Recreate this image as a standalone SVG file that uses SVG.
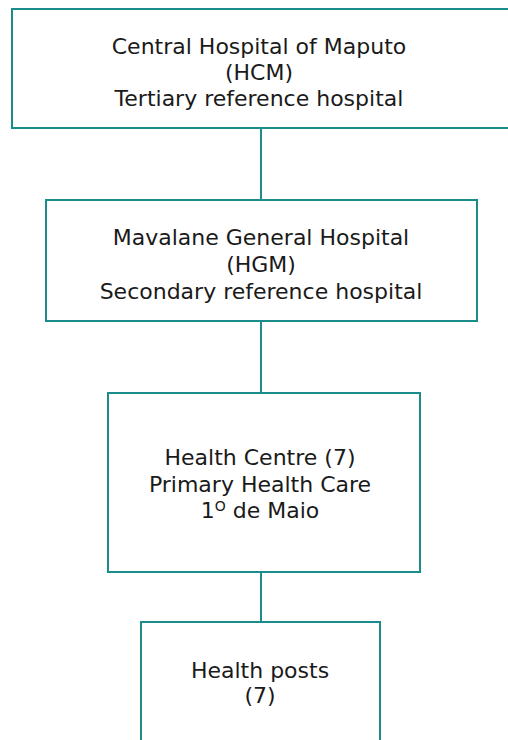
<svg xmlns="http://www.w3.org/2000/svg" width="508" height="740" viewBox="0 0 508 740">
<style>
.box{fill:#fff;stroke:#1a8c89;stroke-width:2}
.con{stroke:#1a8c89;stroke-width:2;fill:none}
text{font-family:"DejaVu Sans","Open Sans","Liberation Sans",sans-serif;font-size:22px;fill:#1a1a1a;text-anchor:middle}
</style>
<rect width="508" height="740" fill="#fff"/>
<g id="connectors">
<line class="con" x1="261" y1="128" x2="261" y2="200"/>
<line class="con" x1="261" y1="321" x2="261" y2="393"/>
<line class="con" x1="261" y1="572" x2="261" y2="622"/>
</g>
<g id="hcm">
<rect class="box" x="12" y="9" width="510" height="119"/>
<text x="259" y="54">Central Hospital of Maputo</text>
<text x="259" y="80">(HCM)</text>
<text x="259" y="106">Tertiary reference hospital</text>
</g>
<g id="hgm">
<rect class="box" x="46" y="200" width="431" height="121"/>
<text x="261" y="245">Mavalane General Hospital</text>
<text x="261" y="272">(HGM)</text>
<text x="261" y="299">Secondary reference hospital</text>
</g>
<g id="hc">
<rect class="box" x="108" y="393" width="312" height="179"/>
<text x="260" y="465">Health Centre (7)</text>
<text x="260" y="492">Primary Health Care</text>
<text x="260" y="518">1<tspan dy="-7" font-size="14">O</tspan><tspan dy="7"> de Maio</tspan></text>
</g>
<g id="hp">
<rect class="box" x="141" y="622" width="239" height="130"/>
<text x="260" y="678">Health posts</text>
<text x="260" y="703">(7)</text>
</g>
</svg>
